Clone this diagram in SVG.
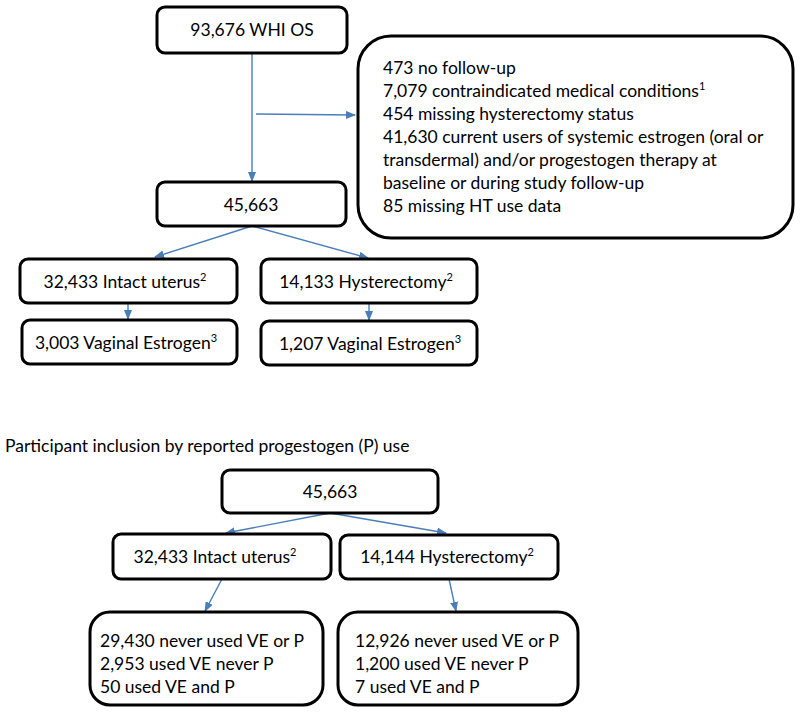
<svg xmlns="http://www.w3.org/2000/svg" width="800" height="723" viewBox="0 0 800 723">
<style>
.box{fill:#fff;stroke:#000;stroke-width:3}
.t{font-family:Lato,"Liberation Sans",sans-serif;font-size:17.5px;fill:#000}
.c{text-anchor:middle}
.sup{font-size:11px}
.ln{stroke:#4a7ebb;stroke-width:1.4;fill:none;marker-end:url(#ah)}
</style>
<defs>
<marker id="ah" markerWidth="10" markerHeight="8" refX="9" refY="4" orient="auto" markerUnits="userSpaceOnUse">
<path d="M0,0 L10,4 L0,8 Z" fill="#4a7ebb"/>
</marker>
</defs>
<rect width="800" height="723" fill="#fff"/>
<g id="connectors">
<line class="ln" x1="252" y1="53" x2="252" y2="181"/>
<line class="ln" x1="256" y1="114" x2="355" y2="115"/>
<line class="ln" x1="252" y1="226" x2="155" y2="257"/>
<line class="ln" x1="252" y1="226" x2="368" y2="258"/>
<line class="ln" x1="128" y1="303" x2="128" y2="319"/>
<line class="ln" x1="369" y1="303" x2="369" y2="320"/>
<line class="ln" x1="330" y1="513" x2="226" y2="533"/>
<line class="ln" x1="330" y1="513" x2="446" y2="533"/>
<line class="ln" x1="222" y1="579" x2="205" y2="611"/>
<line class="ln" x1="449" y1="579" x2="456" y2="611"/>
</g>
<g id="n_whi">
<rect class="box" x="157" y="7" width="190" height="46" rx="8"/>
<text class="t c" x="252" y="36">93,676 WHI OS</text>
</g>
<g id="n_excl">
<rect class="box" x="358" y="36" width="435" height="202" rx="33"/>
<text class="t" x="383" y="74">473 no follow-up</text>
<text class="t" x="383" y="97">7,079 contraindicated medical conditions<tspan class="sup" dy="-7">1</tspan></text>
<text class="t" x="383" y="120">454 missing hysterectomy status</text>
<text class="t" x="383" y="143">41,630 current users of systemic estrogen (oral or</text>
<text class="t" x="383" y="166">transdermal) and/or progestogen therapy at</text>
<text class="t" x="383" y="189">baseline or during study follow-up</text>
<text class="t" x="383" y="212">85 missing HT use data</text>
</g>
<g id="n_45663a">
<rect class="box" x="157" y="182" width="189" height="44" rx="8"/>
<text class="t c" x="251" y="211">45,663</text>
</g>
<g id="n_intact_a">
<rect class="box" x="20" y="259" width="217" height="44" rx="8"/>
<text class="t c" x="125" y="288">32,433 Intact uterus<tspan class="sup" dy="-7">2</tspan></text>
</g>
<g id="n_hyst_a">
<rect class="box" x="261" y="259" width="216" height="44" rx="8"/>
<text class="t c" x="366" y="288">14,133 Hysterectomy<tspan class="sup" dy="-7">2</tspan></text>
</g>
<g id="n_ve_a">
<rect class="box" x="22" y="320" width="215" height="44" rx="8"/>
<text class="t c" x="126" y="349">3,003 Vaginal Estrogen<tspan class="sup" dy="-7">3</tspan></text>
</g>
<g id="n_ve_b">
<rect class="box" x="261" y="321" width="216" height="44" rx="8"/>
<text class="t c" x="370" y="350">1,207 Vaginal Estrogen<tspan class="sup" dy="-7">3</tspan></text>
</g>
<text class="t" x="5" y="452">Participant inclusion by reported progestogen (P) use</text>
<g id="n_45663b">
<rect class="box" x="222" y="470" width="216" height="43" rx="8"/>
<text class="t c" x="330" y="498">45,663</text>
</g>
<g id="n_intact_b">
<rect class="box" x="113" y="534" width="218" height="45" rx="8"/>
<text class="t c" x="215" y="563">32,433 Intact uterus<tspan class="sup" dy="-7">2</tspan></text>
</g>
<g id="n_hyst_b">
<rect class="box" x="340" y="535" width="218" height="44" rx="8"/>
<text class="t c" x="447" y="563">14,144 Hysterectomy<tspan class="sup" dy="-7">2</tspan></text>
</g>
<g id="n_res_a">
<rect class="box" x="90" y="612" width="233" height="93" rx="20"/>
<text class="t" x="100" y="647">29,430 never used VE or P</text>
<text class="t" x="100" y="670">2,953 used VE never P</text>
<text class="t" x="100" y="693">50 used VE and P</text>
</g>
<g id="n_res_b">
<rect class="box" x="338" y="612" width="240" height="93" rx="20"/>
<text class="t" x="355" y="647">12,926 never used VE or P</text>
<text class="t" x="355" y="670">1,200 used VE never P</text>
<text class="t" x="355" y="693">7 used VE and P</text>
</g>
</svg>
